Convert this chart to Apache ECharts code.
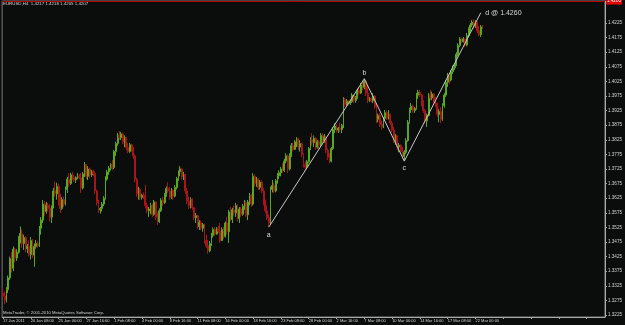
<!DOCTYPE html>
<html>
<head>
<meta charset="utf-8">
<script src="https://cdn.jsdelivr.net/npm/echarts@6/dist/echarts.min.js"></script>
<style>
html,body{margin:0;padding:0;background:#0a0d0c;}
#chart{width:625px;height:325px;}
</style>
</head>
<body>
<div id="chart"></div>
<script>
// ---- data (EURUSD H4) ----
const opens = [
1.3300,1.3290,1.3275,1.3312,1.3352,1.3418,1.3385,1.3450,1.3420,1.3440,1.3488,1.3505,1.3470,1.3490,1.3452,1.3460,
1.3432,1.3480,1.3430,1.3460,1.3470,1.3462,1.3522,1.3550,1.3605,1.3580,1.3600,1.3590,1.3560,1.3595,1.3650,1.3640,
1.3665,1.3612,1.3590,1.3620,1.3605,1.3655,1.3690,1.3675,1.3705,1.3695,1.3688,1.3696,1.3700,1.3695,1.3660,1.3708,
1.3740,1.3700,1.3725,1.3705,1.3715,1.3710,1.3650,1.3610,1.3585,1.3590,1.3605,1.3625,1.3690,1.3715,1.3728,1.3740,
1.3730,1.3785,1.3812,1.3840,1.3832,1.3845,1.3818,1.3832,1.3798,1.3785,1.3808,1.3792,1.3770,1.3690,1.3640,1.3655,
1.3628,1.3635,1.3630,1.3600,1.3582,1.3588,1.3600,1.3570,1.3612,1.3560,1.3545,1.3582,1.3618,1.3610,1.3638,1.3658,
1.3650,1.3628,1.3652,1.3632,1.3662,1.3692,1.3715,1.3725,1.3698,1.3705,1.3650,1.3615,1.3600,1.3620,1.3592,1.3558,
1.3565,1.3528,1.3542,1.3522,1.3535,1.3480,1.3462,1.3445,1.3470,1.3498,1.3518,1.3502,1.3520,1.3512,1.3480,1.3518,
1.3495,1.3540,1.3510,1.3578,1.3552,1.3585,1.3575,1.3600,1.3555,1.3588,1.3570,1.3598,1.3610,1.3568,1.3612,1.3635,
1.3605,1.3700,1.3675,1.3690,1.3662,1.3680,1.3650,1.3608,1.3582,1.3558,1.3540,1.3655,1.3668,1.3650,1.3685,1.3702,
1.3712,1.3725,1.3720,1.3752,1.3770,1.3725,1.3772,1.3805,1.3792,1.3818,1.3828,1.3800,1.3812,1.3775,1.3740,1.3732,
1.3750,1.3795,1.3825,1.3815,1.3830,1.3800,1.3818,1.3808,1.3840,1.3822,1.3835,1.3790,1.3765,1.3752,1.3795,1.3860,
1.3872,1.3858,1.3865,1.3860,1.3875,1.3962,1.3945,1.3958,1.3950,1.3956,1.3978,1.3960,1.3970,1.3995,1.3985,1.4012,
1.4005,1.4025,1.3985,1.3960,1.3966,1.3958,1.3975,1.3938,1.3895,1.3908,1.3878,1.3870,1.3898,1.3918,1.3900,1.3912,
1.3882,1.3858,1.3825,1.3838,1.3800,1.3806,1.3785,1.3768,1.3782,1.3822,1.3885,1.3928,1.3940,1.3925,1.3932,1.3978,
1.3988,1.3978,1.3948,1.3925,1.3890,1.3908,1.3978,1.3968,1.3982,1.3952,1.3945,1.3912,1.3922,1.3895,1.3942,1.3978,
1.4022,1.4045,1.4030,1.4058,1.4072,1.4082,1.4118,1.4148,1.4170,1.4162,1.4170,1.4150,1.4182,1.4205,1.4218,1.4228,
1.4212,1.4225,1.4198,1.4185,1.4217];
const highs = [
1.3318,1.3305,1.3320,1.3360,1.3425,1.3440,1.3460,1.3455,1.3450,1.3495,1.3528,1.3518,1.3500,1.3495,1.3468,1.3480,
1.3492,1.3485,1.3470,1.3482,1.3478,1.3530,1.3560,1.3619,1.3615,1.3612,1.3609,1.3605,1.3600,1.3660,1.3682,1.3678,
1.3675,1.3640,1.3628,1.3630,1.3665,1.3698,1.3711,1.3712,1.3715,1.3705,1.3700,1.3711,1.3708,1.3711,1.3715,1.3749,
1.3742,1.3735,1.3730,1.3722,1.3722,1.3718,1.3655,1.3619,1.3595,1.3612,1.3632,1.3700,1.3722,1.3735,1.3745,1.3756,
1.3790,1.3818,1.3848,1.3855,1.3852,1.3850,1.3840,1.3835,1.3815,1.3814,1.3812,1.3800,1.3775,1.3695,1.3664,1.3660,
1.3640,1.3645,1.3670,1.3610,1.3595,1.3609,1.3605,1.3619,1.3615,1.3575,1.3590,1.3625,1.3630,1.3643,1.3665,1.3680,
1.3664,1.3660,1.3655,1.3670,1.3698,1.3720,1.3735,1.3730,1.3715,1.3708,1.3660,1.3630,1.3628,1.3625,1.3595,1.3574,
1.3568,1.3550,1.3548,1.3540,1.3538,1.3500,1.3482,1.3478,1.3506,1.3525,1.3526,1.3526,1.3530,1.3540,1.3525,1.3526,
1.3545,1.3561,1.3585,1.3595,1.3592,1.3600,1.3609,1.3605,1.3595,1.3595,1.3605,1.3619,1.3615,1.3619,1.3643,1.3640,
1.3711,1.3708,1.3698,1.3695,1.3687,1.3687,1.3660,1.3620,1.3600,1.3570,1.3665,1.3687,1.3677,1.3690,1.3711,1.3720,
1.3732,1.3745,1.3760,1.3779,1.3775,1.3779,1.3814,1.3815,1.3824,1.3834,1.3832,1.3824,1.3815,1.3779,1.3750,1.3756,
1.3800,1.3834,1.3848,1.3840,1.3834,1.3824,1.3824,1.3848,1.3848,1.3845,1.3838,1.3795,1.3779,1.3800,1.3869,1.3882,
1.3878,1.3869,1.3882,1.3880,1.3971,1.3968,1.3965,1.3961,1.3962,1.3985,1.3980,1.3975,1.4000,1.4006,1.4020,1.4028,
1.4034,1.4028,1.4010,1.3971,1.3970,1.3985,1.3978,1.3951,1.3915,1.3917,1.3890,1.3903,1.3927,1.3925,1.3927,1.3915,
1.3890,1.3869,1.3845,1.3840,1.3814,1.3810,1.3800,1.3790,1.3830,1.3893,1.3935,1.3951,1.3945,1.3937,1.3985,1.3996,
1.3996,1.3982,1.3960,1.3930,1.3915,1.3985,1.3996,1.3990,1.3985,1.3971,1.3951,1.3930,1.3937,1.3950,1.3985,1.4030,
1.4054,1.4050,1.4064,1.4080,1.4088,1.4125,1.4156,1.4177,1.4175,1.4177,1.4172,1.4191,1.4210,1.4225,1.4235,1.4238,
1.4235,1.4230,1.4215,1.4218,1.4218];
const lows = [
1.3285,1.3262,1.3268,1.3300,1.3345,1.3370,1.3375,1.3405,1.3410,1.3435,1.3470,1.3455,1.3448,1.3440,1.3437,1.3425,
1.3415,1.3420,1.3390,1.3452,1.3455,1.3458,1.3500,1.3540,1.3565,1.3572,1.3580,1.3545,1.3540,1.3590,1.3630,1.3620,
1.3600,1.3574,1.3585,1.3595,1.3600,1.3643,1.3664,1.3670,1.3687,1.3680,1.3677,1.3690,1.3690,1.3643,1.3655,1.3698,
1.3690,1.3687,1.3694,1.3698,1.3700,1.3640,1.3600,1.3574,1.3572,1.3580,1.3598,1.3620,1.3685,1.3705,1.3720,1.3722,
1.3725,1.3770,1.3805,1.3825,1.3824,1.3810,1.3800,1.3790,1.3779,1.3780,1.3785,1.3760,1.3680,1.3630,1.3620,1.3619,
1.3620,1.3622,1.3590,1.3574,1.3561,1.3570,1.3561,1.3565,1.3550,1.3533,1.3540,1.3578,1.3598,1.3605,1.3630,1.3643,
1.3619,1.3622,1.3619,1.3628,1.3655,1.3685,1.3700,1.3690,1.3687,1.3640,1.3605,1.3588,1.3590,1.3585,1.3550,1.3540,
1.3520,1.3516,1.3516,1.3510,1.3470,1.3455,1.3435,1.3440,1.3462,1.3490,1.3495,1.3500,1.3506,1.3472,1.3478,1.3485,
1.3490,1.3500,1.3472,1.3545,1.3540,1.3565,1.3561,1.3545,1.3540,1.3561,1.3565,1.3585,1.3560,1.3550,1.3600,1.3595,
1.3600,1.3665,1.3664,1.3653,1.3655,1.3643,1.3600,1.3574,1.3550,1.3526,1.3535,1.3645,1.3643,1.3645,1.3675,1.3690,
1.3700,1.3711,1.3715,1.3745,1.3711,1.3720,1.3766,1.3785,1.3790,1.3800,1.3790,1.3785,1.3766,1.3730,1.3722,1.3725,
1.3745,1.3790,1.3805,1.3800,1.3790,1.3795,1.3790,1.3800,1.3814,1.3815,1.3780,1.3756,1.3745,1.3748,1.3790,1.3848,
1.3850,1.3848,1.3852,1.3848,1.3865,1.3937,1.3940,1.3944,1.3944,1.3951,1.3951,1.3952,1.3965,1.3978,1.3982,1.3995,
1.3998,1.3975,1.3951,1.3954,1.3954,1.3951,1.3930,1.3882,1.3885,1.3869,1.3859,1.3865,1.3890,1.3893,1.3895,1.3875,
1.3850,1.3814,1.3808,1.3790,1.3782,1.3779,1.3760,1.3752,1.3775,1.3818,1.3880,1.3917,1.3917,1.3917,1.3928,1.3965,
1.3971,1.3940,1.3917,1.3880,1.3869,1.3905,1.3960,1.3961,1.3945,1.3937,1.3905,1.3885,1.3882,1.3890,1.3935,1.3972,
1.4006,1.4015,1.4025,1.4050,1.4064,1.4078,1.4110,1.4142,1.4156,1.4158,1.4143,1.4145,1.4177,1.4195,1.4211,1.4205,
1.4208,1.4191,1.4180,1.4177,1.4205];
const closes = [
1.3290,1.3275,1.3312,1.3352,1.3418,1.3385,1.3450,1.3420,1.3440,1.3488,1.3505,1.3470,1.3490,1.3452,1.3460,1.3432,
1.3480,1.3430,1.3460,1.3470,1.3462,1.3522,1.3550,1.3605,1.3580,1.3600,1.3590,1.3560,1.3595,1.3650,1.3640,1.3665,
1.3612,1.3590,1.3620,1.3605,1.3655,1.3690,1.3675,1.3705,1.3695,1.3688,1.3696,1.3700,1.3695,1.3660,1.3708,1.3740,
1.3700,1.3725,1.3705,1.3715,1.3710,1.3650,1.3610,1.3585,1.3590,1.3605,1.3625,1.3690,1.3715,1.3728,1.3740,1.3730,
1.3785,1.3812,1.3840,1.3832,1.3845,1.3818,1.3832,1.3798,1.3785,1.3808,1.3792,1.3770,1.3690,1.3640,1.3655,1.3628,
1.3635,1.3630,1.3600,1.3582,1.3588,1.3600,1.3570,1.3612,1.3560,1.3545,1.3582,1.3618,1.3610,1.3638,1.3658,1.3650,
1.3628,1.3652,1.3632,1.3662,1.3692,1.3715,1.3725,1.3698,1.3705,1.3650,1.3615,1.3600,1.3620,1.3592,1.3558,1.3565,
1.3528,1.3542,1.3522,1.3535,1.3480,1.3462,1.3445,1.3470,1.3498,1.3518,1.3502,1.3520,1.3512,1.3480,1.3518,1.3495,
1.3540,1.3510,1.3578,1.3552,1.3585,1.3575,1.3600,1.3555,1.3588,1.3570,1.3598,1.3610,1.3568,1.3612,1.3635,1.3605,
1.3700,1.3675,1.3690,1.3662,1.3680,1.3650,1.3608,1.3582,1.3558,1.3540,1.3655,1.3668,1.3650,1.3685,1.3702,1.3712,
1.3725,1.3720,1.3752,1.3770,1.3725,1.3772,1.3805,1.3792,1.3818,1.3828,1.3800,1.3812,1.3775,1.3740,1.3732,1.3750,
1.3795,1.3825,1.3815,1.3830,1.3800,1.3818,1.3808,1.3840,1.3822,1.3835,1.3790,1.3765,1.3752,1.3795,1.3860,1.3872,
1.3858,1.3865,1.3860,1.3875,1.3962,1.3945,1.3958,1.3950,1.3956,1.3978,1.3960,1.3970,1.3995,1.3985,1.4012,1.4005,
1.4025,1.3985,1.3960,1.3966,1.3958,1.3975,1.3938,1.3895,1.3908,1.3878,1.3870,1.3898,1.3918,1.3900,1.3912,1.3882,
1.3858,1.3825,1.3838,1.3800,1.3806,1.3785,1.3768,1.3782,1.3822,1.3885,1.3928,1.3940,1.3925,1.3932,1.3978,1.3988,
1.3978,1.3948,1.3925,1.3890,1.3908,1.3978,1.3968,1.3982,1.3952,1.3945,1.3912,1.3922,1.3895,1.3942,1.3978,1.4022,
1.4045,1.4030,1.4058,1.4072,1.4082,1.4118,1.4148,1.4170,1.4162,1.4170,1.4150,1.4182,1.4205,1.4218,1.4228,1.4212,
1.4225,1.4198,1.4185,1.4212,1.4207];
const tickLabels = ["17 Jan 2011","20 Jan 08:00","25 Jan 00:00","27 Jan 16:00","1 Feb 08:00","4 Feb 00:00",
  "8 Feb 16:00","11 Feb 08:00","16 Feb 00:00","18 Feb 16:00","23 Feb 08:00","28 Feb 00:00","2 Mar 16:00",
  "7 Mar 08:00","10 Mar 00:00","14 Mar 16:00","17 Mar 08:00","22 Mar 00:00"];
const barsPerLabel = 16;
const totalSlots = 347;            // bars + empty space on the right
const priceTicks = [1.3225,1.3275,1.3325,1.3375,1.3425,1.3475,1.3525,1.3575,1.3625,1.3675,1.3725,
  1.3775,1.3825,1.3875,1.3925,1.3975,1.4025,1.4075,1.4125,1.4175,1.4225];
const patternBar = [153, 208, 231, 275];
const patternPrice = [1.3526, 1.4034, 1.3752, 1.4260];
const patternNames = ["a", "b", "c", "d @ 1.4260"];
const alertLevel = 1.4280;
const lastPrice = 1.4207;
const headerText = "EURUSD,H4  1.4217 1.4218 1.4205 1.4207";
const footerText = "MetaTrader, \u00a9 2001-2010 MetaQuotes Software Corp.";

// ---- build ----
const cats = [];
for (let i = 0; i < totalSlots; i++) cats.push(String(i));
const ohlc = opens.map((o, i) => [o, closes[i], lows[i], highs[i]]);
const labelPos = ['bottom', 'top', 'bottom', 'right'];
const labelDist = [4, 2, 3, 4];
const patternData = patternBar.map((b, i) => ({
  value: [b, patternPrice[i]],
  label: { show: true, formatter: patternNames[i], position: labelPos[i], distance: labelDist[i],
           color: '#d8d8d8', fontSize: 7 }
}));

const FONT = 'Liberation Sans, Arial, sans-serif';
const chart = echarts.init(document.getElementById('chart'), null, { renderer: 'canvas' });
const TXT = '#d4d4d4';
chart.setOption({
  backgroundColor: '#0a0d0c',
  animation: false,
  textStyle: { fontFamily: FONT },
  grid: { left: 1, right: 17, top: 1, bottom: 8, show: true, borderColor: '#7a7a7a', borderWidth: 1 },
  xAxis: {
    type: 'category', data: cats, boundaryGap: true,
    axisLine: { lineStyle: { color: '#a8a8a8', width: 1 } },
    axisTick: { show: true, interval: barsPerLabel - 1, alignWithLabel: true, length: 2, lineStyle: { color: '#a8a8a8' } },
    axisLabel: {
      interval: barsPerLabel - 1, color: TXT, fontSize: 4, margin: 2, align: 'left', hideOverlap: false,
      formatter: (v, idx) => tickLabels[Math.round(idx / barsPerLabel)] || ''
    },
    splitLine: { show: false }
  },
  yAxis: {
    type: 'value', position: 'right', scale: true,
    min: 1.321815, max: 1.430034,
    axisLine: { show: true, lineStyle: { color: '#a8a8a8', width: 1 } },
    axisTick: { show: true, length: 2, customValues: priceTicks, lineStyle: { color: '#a8a8a8' } },
    axisLabel: { customValues: priceTicks, color: TXT, fontSize: 4.6, margin: 3, formatter: v => v.toFixed(4) },
    splitLine: { show: false }
  },
  series: [
    {
      type: 'candlestick', data: ohlc, barWidth: 1.4,
      itemStyle: { color: '#56a81c', color0: '#a81418', borderColor: '#56a81c', borderColor0: '#a81418', borderWidth: 1 },
      markLine: {
        silent: true, symbol: 'none', animation: false,
        data: [
          { yAxis: alertLevel, lineStyle: { color: '#b00000', width: 1, type: 'solid' },
            label: { show: true, position: 'end', distance: 1, formatter: alertLevel.toFixed(4), color: '#ffffff',
                     backgroundColor: '#e00000', fontSize: 4.6, padding: [1, 1] } },
          { yAxis: lastPrice, lineStyle: { opacity: 0 },
            label: { show: true, position: 'end', distance: 1, formatter: lastPrice.toFixed(4), color: '#000000',
                     backgroundColor: '#e8e8e8', fontSize: 4.6, padding: [1, 1] } }
        ]
      }
    },
    {
      type: 'line', data: patternData, symbol: 'circle', symbolSize: 1, showSymbol: true,
      lineStyle: { color: '#c8c8c8', width: 1 }, itemStyle: { color: 'rgba(0,0,0,0)' },
      label: { show: true, color: '#d8d8d8', fontSize: 7 }, z: 5
    }
  ],
  graphic: [
    { type: 'text', left: 3, top: 1.5, style: { text: headerText, fill: TXT, fontSize: 4.4, fontFamily: FONT } },
    { type: 'text', left: 3, top: 311, style: { text: footerText, fill: TXT, fontSize: 4.2, fontFamily: FONT } }
  ]
});
</script>
</body>
</html>
